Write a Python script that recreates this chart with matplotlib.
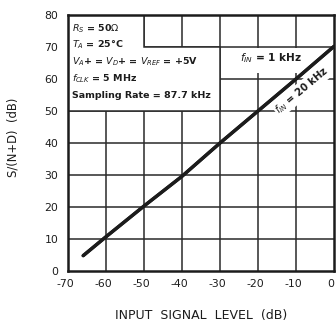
import matplotlib
matplotlib.use("Agg")
import matplotlib.pyplot as plt
from matplotlib.patches import Polygon, Rectangle
from matplotlib.transforms import ScaledTranslation

# S/(N+D) versus input level, same response at 1 kHz and 20 kHz
input_level_1k = [-66, -60, -50, -40, -30, -20, -10, 0]
snd_1k = [4.8, 10.7, 20.3, 29.6, 40.0, 50.0, 60.0, 70.2]
input_level_20k = [-66, -60, -50, -40, -30, -20, -10, 0]
snd_20k = [4.8, 10.7, 20.3, 29.6, 40.0, 50.0, 60.0, 70.2]

x_ticks = [-70, -60, -50, -40, -30, -20, -10, 0]
y_ticks = [0, 10, 20, 30, 40, 50, 60, 70, 80]

conditions = [
    r"$R_S$ = 50$\Omega$",
    r"$T_A$ = 25°C",
    r"$V_A$+ = $V_D$+ = $V_{REF}$ = +5V",
    r"$f_{CLK}$ = 5 MHz",
    "Sampling Rate = 87.7 kHz",
]

ink = "#1c1c1c"
grid_c = "#2a2a2a"

fig = plt.figure(figsize=(3.36, 3.26), dpi=100)
ax = fig.add_axes([68 / 336, 1 - 271 / 326, (334 - 68) / 336, (271 - 15) / 326])
ax.set_xlim(-70, 0)
ax.set_ylim(0, 80)

for xv in x_ticks[1:-1]:
    ax.axvline(xv, color=grid_c, lw=1.1, zorder=1)
for yv in y_ticks[1:-1]:
    ax.axhline(yv, color=grid_c, lw=1.1, zorder=1)

# blank panel holding the test conditions
panel = Polygon([(-70, 50), (-30, 50), (-30, 70), (-50, 70), (-50, 80), (-70, 80)],
                closed=True, facecolor="white", edgecolor=grid_c, lw=1.1, zorder=2)
ax.add_patch(panel)
for i, line in enumerate(conditions):
    ax.text(-69, 75.8 - i * 5.2, line, fontsize=6.8, color=ink, fontweight="bold",
            ha="left", va="center", zorder=3)

# blank band behind the 1 kHz label
ax.add_patch(Rectangle((-29.6, 61.8), 29.0, 7.9, facecolor="white",
                       edgecolor="none", zorder=2))

ax.plot(input_level_1k, snd_1k, color=ink, lw=2.4, zorder=4,
        solid_capstyle="round")
ax.plot(input_level_20k, snd_20k, color=ink, lw=2.4, zorder=4,
        solid_capstyle="round")

ax.text(-16.5, 66.4, r"$f_{IN}$ = 1 kHz", fontsize=7.6, color=ink, fontweight="bold",
        ha="center", va="center", zorder=5)
# 20 kHz label sits just under the curve, parallel to it
ax.annotate(r"$f_{IN}$ = 20 kHz", xy=(-10, snd_20k[6]), xytext=(4.5, -8.0),
            textcoords="offset points", fontsize=7.2, color=ink, fontweight="bold",
            ha="center", va="center", rotation=40, rotation_mode="anchor", zorder=3,
            bbox=dict(facecolor="white", edgecolor="none", pad=1.0))

ax.set_xticks(x_ticks)
ax.set_xticklabels([str(v) for v in x_ticks])
ax.set_yticks(y_ticks)
ax.set_yticklabels([str(v) for v in y_ticks])
ax.tick_params(length=0, labelsize=7.8, colors=ink)
ax.tick_params(axis="x", pad=6)
ax.tick_params(axis="y", pad=7)
shift = ScaledTranslation(-3 / 100, 0, fig.dpi_scale_trans)
for lab in ax.get_xticklabels():
    lab.set_transform(lab.get_transform() + shift)
for s in ax.spines.values():
    s.set_color(ink)
    s.set_linewidth(1.8)
    s.set_zorder(6)

fig.text(201 / 336, 1 - 316 / 326, "INPUT  SIGNAL  LEVEL  (dB)", fontsize=9.0,
         color=ink, ha="center", va="center")
fig.text(13 / 336, 1 - 137 / 326, "S/(N+D)  (dB)", fontsize=8.4, color=ink,
         ha="center", va="center", rotation=90)

fig.savefig("out.png", dpi=100, facecolor="white")
